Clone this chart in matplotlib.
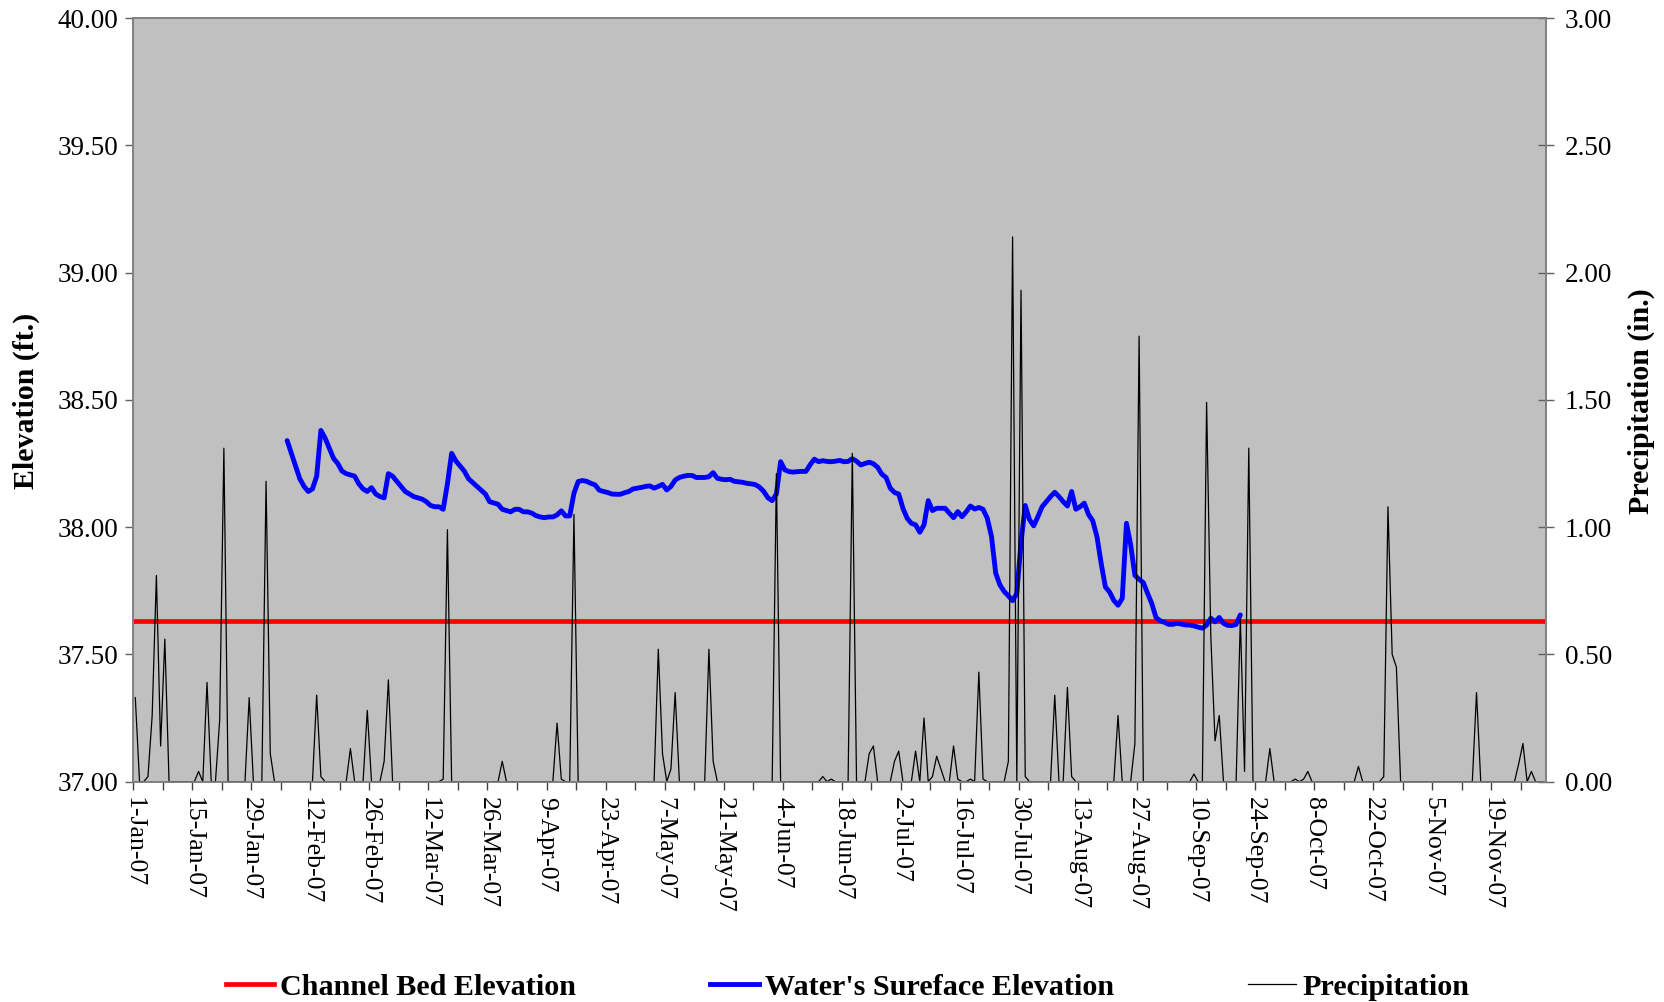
import datetime as dt
import matplotlib
matplotlib.use("Agg")
import matplotlib.pyplot as plt
import matplotlib.dates as mdates
import pandas as pd

plt.rcParams['font.family'] = ['Liberation Serif', 'DejaVu Serif']

# channel bed elevation (ft.)
channel_bed = 37.63

# water surface elevation (ft.), one value per day starting 6-Feb-07
wse_start = '2007-02-06'
wse_values = [
    38.34, 38.29, 38.24, 38.19, 38.16, 38.14, 38.15, 38.20, 38.38, 38.35,
    38.31, 38.27, 38.25, 38.22, 38.21, 38.205, 38.20, 38.17, 38.15, 38.14,
    38.155, 38.13, 38.12, 38.115, 38.21, 38.20, 38.18, 38.16, 38.14, 38.13,
    38.12, 38.115, 38.11, 38.10, 38.085, 38.08, 38.08, 38.07, 38.17, 38.29,
    38.26, 38.24, 38.22, 38.19, 38.175, 38.16, 38.145, 38.13, 38.10, 38.095,
    38.09, 38.07, 38.065, 38.06, 38.07, 38.07, 38.06, 38.06, 38.055, 38.045,
    38.04, 38.037, 38.04, 38.04, 38.048, 38.064, 38.044, 38.044, 38.133, 38.179,
    38.183, 38.18, 38.172, 38.166, 38.145, 38.14, 38.136, 38.13, 38.129, 38.129,
    38.135, 38.14, 38.15, 38.153, 38.156, 38.16, 38.162, 38.153, 38.16, 38.168,
    38.146, 38.16, 38.185, 38.195, 38.20, 38.203, 38.203, 38.195, 38.195, 38.195,
    38.198, 38.214, 38.192, 38.188, 38.186, 38.188, 38.18, 38.178, 38.176, 38.172,
    38.17, 38.167, 38.157, 38.14, 38.115, 38.104, 38.13, 38.257, 38.225, 38.218,
    38.216, 38.218, 38.219, 38.219, 38.245, 38.267, 38.257, 38.261, 38.258, 38.257,
    38.259, 38.262, 38.257, 38.258, 38.269, 38.259, 38.244, 38.25, 38.255, 38.249,
    38.235, 38.208, 38.195, 38.153, 38.136, 38.13, 38.074, 38.035, 38.015, 38.009,
    37.98, 38.009, 38.104, 38.065, 38.074, 38.074, 38.074, 38.055, 38.037, 38.061,
    38.041, 38.06, 38.083, 38.071, 38.077, 38.07, 38.035, 37.963, 37.819, 37.773,
    37.747, 37.73, 37.711, 37.74, 37.94, 38.085, 38.03, 38.005, 38.041, 38.08,
    38.10, 38.12, 38.137, 38.12, 38.10, 38.083, 38.14, 38.07, 38.08, 38.094,
    38.05, 38.025, 37.963, 37.858, 37.765, 37.745, 37.712, 37.693, 37.72, 38.015,
    37.93, 37.81, 37.795, 37.782, 37.74, 37.70, 37.645, 37.632, 37.626, 37.618,
    37.618, 37.622, 37.619, 37.616, 37.615, 37.612, 37.607, 37.603, 37.615, 37.642,
    37.628, 37.645, 37.622, 37.614, 37.613, 37.618, 37.655,
]

# daily precipitation (in.), days not listed had none
precip_start = '2007-01-01'
precip_end = '2007-12-01'
precip_dates = [
    '2007-01-01', '2007-01-04', '2007-01-05', '2007-01-06', '2007-01-07', '2007-01-08',
    '2007-01-16', '2007-01-18', '2007-01-21', '2007-01-22', '2007-01-28',
    '2007-02-01', '2007-02-02', '2007-02-13', '2007-02-14', '2007-02-21', '2007-02-25',
    '2007-03-01', '2007-03-02', '2007-03-15', '2007-03-16', '2007-03-29',
    '2007-04-11', '2007-04-12', '2007-04-15',
    '2007-05-05', '2007-05-06', '2007-05-08', '2007-05-09', '2007-05-17', '2007-05-18',
    '2007-06-02', '2007-06-13', '2007-06-15', '2007-06-20', '2007-06-24', '2007-06-25',
    '2007-06-30',
    '2007-07-01', '2007-07-05', '2007-07-07', '2007-07-09', '2007-07-10', '2007-07-11',
    '2007-07-14', '2007-07-15', '2007-07-18', '2007-07-20', '2007-07-21', '2007-07-27',
    '2007-07-28', '2007-07-30', '2007-07-31',
    '2007-08-07', '2007-08-10', '2007-08-11', '2007-08-22', '2007-08-26', '2007-08-27',
    '2007-09-09', '2007-09-12', '2007-09-13', '2007-09-14', '2007-09-15', '2007-09-20',
    '2007-09-21', '2007-09-22', '2007-09-27',
    '2007-10-03', '2007-10-05', '2007-10-06', '2007-10-18', '2007-10-24', '2007-10-25',
    '2007-10-26', '2007-10-27',
    '2007-11-15', '2007-11-25', '2007-11-26', '2007-11-28',
]
precip_values = [
    0.33, 0.02, 0.26, 0.81, 0.14, 0.56,
    0.04, 0.39, 0.24, 1.31, 0.33,
    1.18, 0.11, 0.34, 0.02, 0.13, 0.28,
    0.08, 0.40, 0.01, 0.99, 0.08,
    0.23, 0.01, 1.05,
    0.52, 0.11, 0.05, 0.35, 0.52, 0.08,
    1.21, 0.02, 0.01, 1.29, 0.11, 0.14,
    0.08,
    0.12, 0.12, 0.25, 0.02, 0.10, 0.05,
    0.14, 0.01, 0.01, 0.43, 0.01, 0.08,
    2.14, 1.93, 0.02,
    0.34, 0.37, 0.02, 0.26, 0.15, 1.75,
    0.03, 1.49, 0.57, 0.16, 0.26, 0.64,
    0.04, 1.31, 0.13,
    0.01, 0.01, 0.04, 0.06, 0.02, 1.08,
    0.50, 0.45,
    0.35, 0.07, 0.15, 0.04,
]

x_start = dt.datetime(2007, 1, 1)
x_end = dt.datetime(2007, 12, 2)

# daily points sit in the middle of each day
half_day = pd.Timedelta(hours=12)
wse = pd.Series(wse_values,
                index=pd.date_range(wse_start, periods=len(wse_values), freq='D'))
precip = pd.Series(precip_values, index=pd.to_datetime(precip_dates))
precip = precip.reindex(pd.date_range(precip_start, precip_end, freq='D'), fill_value=0.0)

fig = plt.figure(figsize=(16.65, 10.02), dpi=100)
ax = fig.add_axes([0.080, 0.2199, 0.8486, 0.7621])
ax.set_facecolor('#C0C0C0')

ax.axhline(channel_bed, color='#FF0000', lw=3.4, zorder=2)
ax.plot(wse.index + half_day, wse.values, color='#0000FF', lw=3.5,
        solid_joinstyle='round', solid_capstyle='round', zorder=3)

ax2 = ax.twinx()
ax2.plot(precip.index + half_day, precip.values, color='black', lw=0.9)

ax.set_xlim(x_start, x_end)
ax.set_ylim(37.0, 40.0)
ax2.set_ylim(0.0, 3.0)
ax.set_yticks([37.0 + 0.5 * i for i in range(7)])
ax2.set_yticks([0.5 * i for i in range(7)])
ax.yaxis.set_major_formatter(plt.FuncFormatter(lambda v, p: f'{v:.2f}'))
ax2.yaxis.set_major_formatter(plt.FuncFormatter(lambda v, p: f'{v:.2f}'))

major = pd.date_range(x_start, x_end, freq='14D')
minor = pd.date_range(x_start, x_end, freq='7D')
ax.set_xticks(major)
ax.set_xticks(minor, minor=True)
ax.xaxis.set_major_formatter(plt.FuncFormatter(
    lambda v, p: f"{mdates.num2date(v).day}-{mdates.num2date(v).strftime('%b-%y')}"))

ax.tick_params(axis='x', which='both', direction='out', length=6, width=1,
               color='#404040', labelsize=18.5, pad=5, labelrotation=-90)
ax.tick_params(axis='y', direction='out', length=6, width=1, color='#606060',
               labelsize=19.5, pad=5)
ax2.tick_params(axis='y', direction='inout', length=11, width=1, color='#606060',
                labelsize=19.5, pad=8)
for lab in ax.get_xticklabels():
    lab.set_va('top')
    lab.set_ha('center')

for a in (ax, ax2):
    for s in a.spines.values():
        s.set_color('#808080')
        s.set_linewidth(1.2)

fig.text(0.016, 0.60, 'Elevation (ft.)', rotation=90, ha='center', va='center',
         fontsize=21.5, fontweight='bold')
fig.text(0.986, 0.60, 'Precipitation (in.)', rotation=90, ha='center', va='center',
         fontsize=21.5, fontweight='bold')

h1, = ax.plot([], [], color='#FF0000', lw=3.4)
h2, = ax.plot([], [], color='#0000FF', lw=3.5)
h3, = ax.plot([], [], color='black', lw=0.9)
fig.legend([h1, h2, h3],
           ['Channel Bed Elevation', "Water's Sureface Elevation", 'Precipitation'],
           loc='center', bbox_to_anchor=(0.509, 0.015), ncol=3, frameon=False,
           prop={'size': 21.7, 'weight': 'bold'}, handlelength=1.6,
           handletextpad=0.2, columnspacing=4.45)

fig.savefig('out.png', dpi=100)
